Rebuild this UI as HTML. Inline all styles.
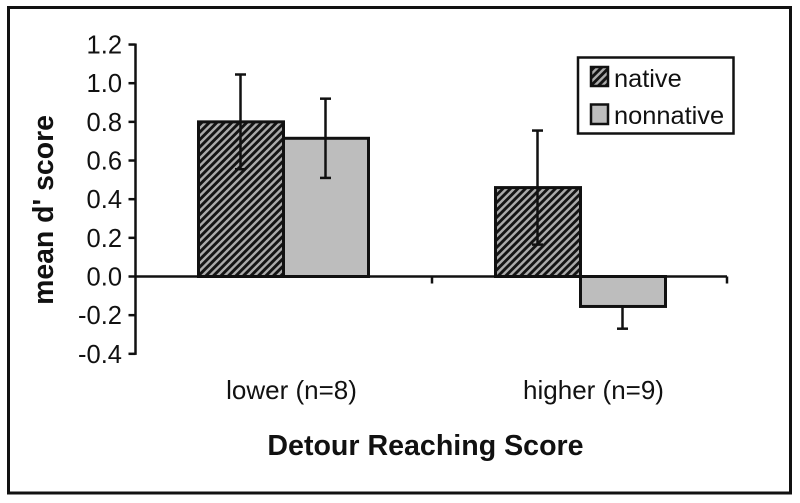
<!DOCTYPE html>
<html>
<head>
<meta charset="utf-8">
<style>
html,body{margin:0;padding:0;background:#fff;width:800px;height:503px;overflow:hidden}
svg{display:block}
text{font-family:"Liberation Sans",Arial,sans-serif;fill:#111}
</style>
</head>
<body>
<svg id="chart" width="800" height="503" viewBox="0 0 800 503" xmlns="http://www.w3.org/2000/svg">
  <defs>
    <pattern id="hatch" patternUnits="userSpaceOnUse" width="5.3" height="6" patternTransform="rotate(45)">
      <rect width="5.3" height="6" fill="#ababab"/>
      <rect width="2.9" height="6" fill="#141414"/>
    </pattern>
  </defs>
  <rect x="0" y="0" width="800" height="503" fill="#fff"/>
  <rect x="8.5" y="7.5" width="782" height="485.5" fill="none" stroke="#111" stroke-width="3"/>
  <g id="marks"></g>
  <g id="axes"></g>
  <text transform="translate(53,210) rotate(-90)" text-anchor="middle" font-size="28.4" font-weight="bold">mean d' score</text>
  <text x="425.5" y="455" text-anchor="middle" font-size="28.6" font-weight="bold">Detour Reaching Score</text>
  <g>
    <rect x="578" y="57.5" width="155.5" height="76" fill="#fff" stroke="#111" stroke-width="2.5"/>
    <rect x="591" y="67" width="17" height="19" fill="url(#hatch)" stroke="#111" stroke-width="2.5"/>
    <text x="614" y="87" font-size="25.4">native</text>
    <rect x="591" y="104.5" width="17" height="19.5" fill="#bdbdbd" stroke="#111" stroke-width="2.5"/>
    <text x="614" y="124" font-size="25.4">nonnative</text>
  </g>
</svg>
<script>
const categories = ['lower (n=8)', 'higher (n=9)'];
const nativeValues = [0.80, 0.46];
const nonnativeValues = [0.715, -0.155];
const nativeErrors = [0.245, 0.295];
const nonnativeErrors = [0.205, 0.115];
const tickLabels = ['1.2', '1.0', '0.8', '0.6', '0.4', '0.2', '0.0', '-0.2', '-0.4'];

const NS = 'http://www.w3.org/2000/svg';
const plotLeft = 135.5, plotRight = 727;
const firstCenter = 283.5, groupStep = 297;
const zeroY = 276.5, unitPx = 193.3;
const barWidth = 85;
const marks = document.getElementById('marks');
const axes = document.getElementById('axes');

function yScale(v) { return zeroY - v * unitPx; }
function groupCenter(i) { return firstCenter + groupStep * i; }

function make(tag, attrs, parent) {
  const el = document.createElementNS(NS, tag);
  for (const k in attrs) el.setAttribute(k, attrs[k]);
  parent.appendChild(el);
  return el;
}

function drawBar(value, x, fill, name) {
  const top = Math.min(yScale(value), zeroY);
  const h = Math.abs(yScale(value) - zeroY);
  const el = make('rect', { x: x, y: top, width: barWidth, height: h, fill: fill, stroke: '#111', 'stroke-width': 3 }, marks);
  
  
}

function drawError(value, err, cx, name) {
  const g = make('g', {}, marks);
  
  
  const low = yScale(value - err);
  const high = value < 0 ? yScale(value) : yScale(value + err);
  make('line', { x1: cx, x2: cx, y1: high, y2: low, stroke: '#111', 'stroke-width': 2.5 }, g);
  make('line', { x1: cx - 5.5, x2: cx + 5.5, y1: low, y2: low, stroke: '#111', 'stroke-width': 2.5 }, g);
  if (value >= 0) {
    make('line', { x1: cx - 5.5, x2: cx + 5.5, y1: high, y2: high, stroke: '#111', 'stroke-width': 2.5 }, g);
  }
}

categories.forEach(function (cat, i) {
  const c = groupCenter(i);
  drawBar(nativeValues[i], c - barWidth, 'url(#hatch)', 'bar-native-' + i);
  drawBar(nonnativeValues[i], c, '#bdbdbd', 'bar-nonnative-' + i);
});
categories.forEach(function (cat, i) {
  const c = groupCenter(i);
  drawError(nativeValues[i], nativeErrors[i], c - barWidth / 2 - 0.5, 'error-bar-native-' + i);
  drawError(nonnativeValues[i], nonnativeErrors[i], c + barWidth / 2 - 0.5, 'error-bar-nonnative-' + i);
  const label = make('text', { x: c + 8 + i * 5, y: 399, 'text-anchor': 'middle', 'font-size': 26 }, axes);
  
  
  label.textContent = cat;
});

const yAxis = make('line', { x1: plotLeft, x2: plotLeft, y1: yScale(1.2) - 1, y2: yScale(-0.4) + 1, stroke: '#111', 'stroke-width': 2.5 }, axes);



const xAxis = make('line', { x1: plotLeft, x2: plotRight, y1: zeroY, y2: zeroY, stroke: '#111', 'stroke-width': 2.5 }, axes);



tickLabels.forEach(function (t) {
  const y = yScale(parseFloat(t));
  const tick = make('line', { x1: plotLeft - 7, x2: plotLeft, y1: y, y2: y, stroke: '#111', 'stroke-width': 2.5 }, axes);
  
  
  const label = make('text', { x: 122, y: y + 9, 'text-anchor': 'end', 'font-size': 25.5 }, axes);
  
  
  label.textContent = t;
});

categories.forEach(function (cat, i) {
  const x = i === categories.length - 1 ? plotRight : groupCenter(i) + groupStep / 2;
  const tick = make('line', { x1: x, x2: x, y1: zeroY, y2: zeroY + 7, stroke: '#111', 'stroke-width': 2.5 }, axes);
  
  
});
</script>
</body>
</html>
